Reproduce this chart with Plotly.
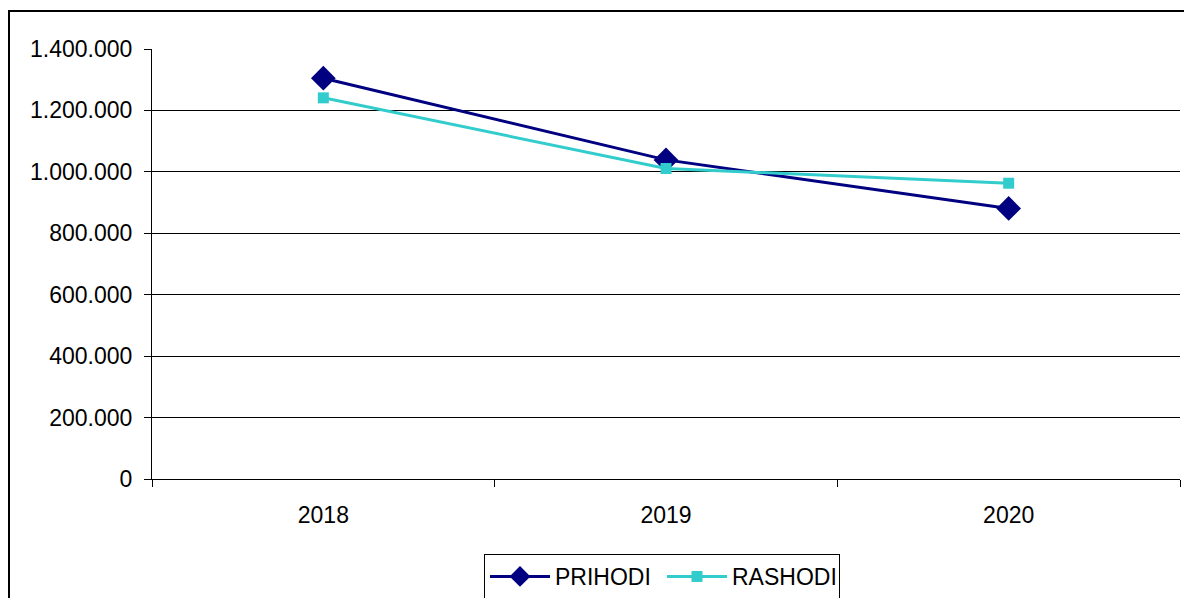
import plotly.graph_objects as go

years = ["2018", "2019", "2020"]
prihodi = [1305000, 1039000, 881000]
rashodi = [1241000, 1011000, 963000]
y_ticks = [0, 200000, 400000, 600000, 800000, 1000000, 1200000, 1400000]

W, H = 1184, 598
L, R, T, B = 152, 4, 49, 119
pw, ph = W - L - R, H - T - B

def px_x(x):
    return (x - L) / pw

def px_y(y):
    return (H - B - y) / ph

fig = go.Figure()
fig.add_trace(go.Scatter(
    x=years, y=prihodi, name="PRIHODI", mode="lines+markers",
    line=dict(color="#000080", width=3),
    marker=dict(symbol="diamond", size=19, color="#000080"),
))
fig.add_trace(go.Scatter(
    x=years, y=rashodi, name="RASHODI", mode="lines+markers",
    line=dict(color="#33CCCC", width=3),
    marker=dict(symbol="square", size=11, color="#33CCCC"),
))

fig.update_layout(
    width=W, height=H,
    margin=dict(l=L, r=R, t=T, b=B, pad=0, autoexpand=False),
    paper_bgcolor="white", plot_bgcolor="white",
    separators=",.",
    font=dict(family="Liberation Sans, Arial, sans-serif", size=23, color="black"),
    showlegend=True,
    legend=dict(
        orientation="h", x=px_x(484), xanchor="left", y=px_y(554), yanchor="top",
        bordercolor="black", borderwidth=1, bgcolor="white",
        font=dict(size=23), entrywidth=102, entrywidthmode="pixels",
        itemwidth=60,
    ),
    xaxis=dict(
        type="category", range=[-0.5, 2.5], tickson="boundaries",
        ticks="outside", ticklen=7, tickcolor="black", tickwidth=1,
        showline=True, linecolor="black", linewidth=1,
        showgrid=False, zeroline=False, ticklabelstandoff=15,
    ),
    yaxis=dict(
        range=[0, 1400000], tickvals=y_ticks, tickformat=",d",
        ticks="outside", ticklen=7, tickcolor="black", tickwidth=1,
        showline=True, linecolor="black", linewidth=1,
        showgrid=True, gridcolor="black", gridwidth=1, zeroline=False,
        ticklabelstandoff=7,
    ),
    shapes=[
        dict(type="rect", xref="paper", yref="paper",
             x0=px_x(9), x1=px_x(1200), y0=px_y(11), y1=px_y(620),
             line=dict(color="black", width=2), fillcolor="rgba(0,0,0,0)",
             layer="below"),
    ],
)

fig.write_html(
    "out.html",
    config={"displayModeBar": False},
    post_script="document.body.style.margin='0';document.body.style.overflow='hidden';",
)
